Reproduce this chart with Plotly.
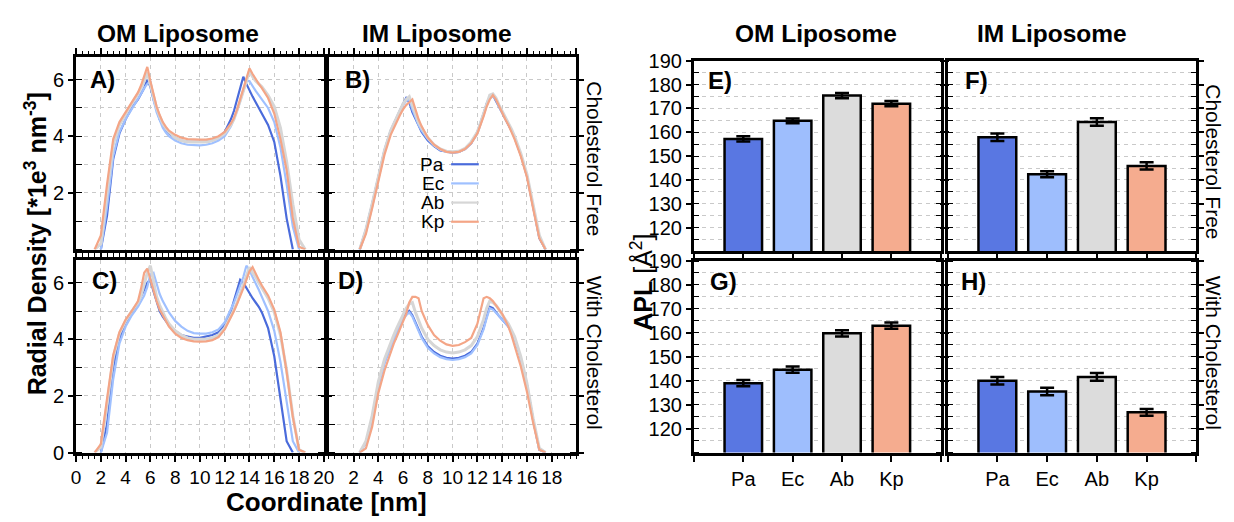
import plotly.graph_objects as go

# ---------------------------------------------------------------- data
species = ["Pa", "Ec", "Ab", "Kp"]
line_colors = ["#4a6bdb", "#9fc0ff", "#d6d6d6", "#f4a586"]
bar_colors = ["#5977e2", "#9ebefd", "#dcdcdc", "#f5ac8f"]

# sampling positions of the radial profiles [nm] (denser around the two peaks)
coord_nm = [0, 0.5, 1, 1.5, 2, 2.5, 3, 3.5, 4, 4.5,
            5, 5.25, 5.5, 5.75, 6, 6.25, 6.5, 6.75, 7, 7.25, 7.5,
            8, 8.5, 9, 9.5, 10, 10.5, 11, 11.5, 12,
            12.5, 12.75, 13, 13.25, 13.5, 13.75, 14, 14.25, 14.5, 14.75, 15,
            15.5, 16, 16.5, 17, 17.5, 18, 18.5, 19, 19.5, 20]

N = None
# OM liposome, cholesterol free (panel A)
om_free_pa = [N, N, N, N, 0.0, 1.2, 3.2, 4.1, 4.6, 5.0,
              5.3, 5.5, 5.7, 6.0, 5.75, 5.3, 4.9, 4.6, 4.4, 4.22, 4.1,
              3.95, 3.85, 3.8, 3.8, 3.8, 3.8, 3.85, 3.95, 4.15,
              4.6, 4.9, 5.3, 5.7, 6.1, 5.85, 5.6, 5.4, 5.2, 5.0, 4.8,
              4.4, 3.8, 2.6, 1.1, 0.0, N, N, N, N, N]
om_free_ec = [N, N, N, N, 0.0, 1.5, 3.3, 4.15, 4.6, 4.95,
              5.3, 5.5, 5.7, 5.85, 5.95, 5.3, 4.85, 4.55, 4.3, 4.13, 4.0,
              3.85, 3.75, 3.7, 3.68, 3.68, 3.7, 3.75, 3.85, 4.0,
              4.35, 4.6, 4.9, 5.25, 5.6, 5.95, 5.95, 5.75, 5.6, 5.45, 5.3,
              5.0, 4.5, 3.6, 2.3, 0.8, 0.0, N, N, N, N]
om_free_ab = [N, N, N, 0.0, 0.2, 2.0, 3.7, 4.4, 4.8, 5.15,
              5.5, 5.7, 5.95, 6.25, 5.85, 5.4, 5.0, 4.7, 4.45, 4.28, 4.15,
              3.95, 3.85, 3.8, 3.8, 3.8, 3.8, 3.85, 3.95, 4.1,
              4.4, 4.6, 4.9, 5.25, 5.6, 5.95, 6.3, 6.1, 5.95, 5.85, 5.75,
              5.45, 5.05, 4.3, 3.1, 1.6, 0.35, 0.0, N, N, N]
om_free_kp = [N, N, N, 0.0, 0.5, 2.3, 3.9, 4.5, 4.85, 5.2,
              5.55, 5.8, 6.1, 6.45, 5.95, 5.45, 5.05, 4.75, 4.5, 4.33, 4.2,
              4.05, 3.95, 3.9, 3.88, 3.88, 3.88, 3.92, 4.0, 4.15,
              4.45, 4.65, 4.95, 5.3, 5.65, 6.0, 6.4, 6.2, 6.0, 5.85, 5.7,
              5.35, 4.8, 3.9, 2.8, 1.1, 0.1, 0.0, N, N, N]

# IM liposome, cholesterol free (panel B)
im_free_pa = [N, N, N, N, N, 0.0, 0.7, 1.6, 2.6, 3.5,
              4.2, 4.45, 4.7, 4.95, 5.15, 5.35, 5.2, 4.85, 4.6, 4.35, 4.15,
              3.85, 3.65, 3.5, 3.45, 3.42, 3.45, 3.55, 3.75, 4.15,
              4.8, 5.15, 5.4, 5.45, 5.25, 5.05, 4.85, 4.65, 4.45, 4.2, 3.95,
              3.35, 2.6, 1.5, 0.4, 0.0, N, N, N, N, N]
im_free_ec = [N, N, N, N, N, 0.0, 0.6, 1.5, 2.5, 3.45,
              4.15, 4.4, 4.65, 4.9, 5.1, 5.25, 5.3, 4.95, 4.65, 4.4, 4.2,
              3.9, 3.68, 3.52, 3.45, 3.42, 3.45, 3.55, 3.75, 4.1,
              4.75, 5.1, 5.35, 5.4, 5.3, 5.05, 4.85, 4.65, 4.45, 4.2, 3.95,
              3.35, 2.6, 1.5, 0.45, 0.0, N, N, N, N, N]
im_free_ab = [N, N, N, N, N, 0.0, 0.7, 1.6, 2.55, 3.5,
              4.2, 4.45, 4.7, 4.95, 5.15, 5.3, 5.4, 5.1, 4.8, 4.5, 4.3,
              3.95, 3.7, 3.55, 3.47, 3.45, 3.47, 3.57, 3.8, 4.15,
              4.8, 5.15, 5.45, 5.5, 5.35, 5.1, 4.9, 4.7, 4.5, 4.25, 4.0,
              3.4, 2.65, 1.6, 0.5, 0.0, N, N, N, N, N]
im_free_kp = [N, N, N, N, N, 0.0, 0.55, 1.45, 2.4, 3.35,
              4.05, 4.3, 4.55, 4.75, 4.95, 5.1, 5.2, 5.3, 4.95, 4.6, 4.35,
              3.95, 3.7, 3.55, 3.45, 3.42, 3.45, 3.55, 3.75, 4.1,
              4.7, 5.05, 5.3, 5.45, 5.3, 5.05, 4.85, 4.6, 4.4, 4.15, 3.9,
              3.3, 2.55, 1.45, 0.4, 0.0, N, N, N, N, N]

# OM liposome, with cholesterol (panel C)
om_chol_pa = [N, N, N, N, 0.0, 1.0, 3.0, 4.0, 4.6, 4.9,
              5.3, 5.5, 5.75, 6.0, 6.1, 5.7, 5.3, 5.0, 4.8, 4.65, 4.5,
              4.3, 4.15, 4.1, 4.05, 4.05, 4.1, 4.15, 4.25, 4.5,
              5.0, 5.35, 5.7, 6.1, 6.0, 5.8, 5.65, 5.45, 5.3, 5.15, 4.95,
              4.4, 3.4, 1.9, 0.4, 0.0, N, N, N, N, N]
om_chol_ec = [N, N, N, N, 0.0, 0.7, 2.6, 3.85, 4.45, 4.85,
              5.15, 5.35, 5.55, 5.85, 6.3, 6.35, 5.95, 5.6, 5.35, 5.15, 4.95,
              4.65, 4.45, 4.3, 4.22, 4.2, 4.2, 4.25, 4.35, 4.6,
              5.05, 5.3, 5.6, 5.9, 6.2, 6.6, 6.45, 6.2, 6.0, 5.75, 5.5,
              5.0, 4.3, 3.2, 1.8, 0.4, 0.0, N, N, N, N]
om_chol_ab = [N, N, N, 0.0, 0.2, 1.7, 3.35, 4.2, 4.65, 5.0,
              5.3, 5.55, 6.0, 6.35, 6.6, 6.0, 5.5, 5.2, 4.95, 4.73, 4.55,
              4.3, 4.15, 4.05, 4.0, 4.0, 4.0, 4.05, 4.15, 4.4,
              4.8, 5.05, 5.3, 5.6, 5.9, 6.2, 6.55, 6.35, 6.2, 6.0, 5.8,
              5.45, 4.95, 4.15, 2.9, 1.3, 0.1, 0.0, N, N, N]
om_chol_kp = [N, N, N, 0.0, 0.3, 1.9, 3.45, 4.25, 4.7, 5.0,
              5.35, 5.8, 6.35, 6.5, 6.1, 5.7, 5.35, 5.05, 4.85, 4.63, 4.45,
              4.2, 4.05, 3.97, 3.93, 3.92, 3.93, 3.97, 4.08, 4.35,
              4.75, 5.0, 5.25, 5.5, 5.8, 6.1, 6.4, 6.55, 6.3, 6.1, 5.9,
              5.55, 5.05, 4.25, 2.85, 1.25, 0.1, 0.0, N, N, N]

# IM liposome, with cholesterol (panel D)
im_chol_pa = [N, N, N, N, N, 0.0, 0.35, 1.2, 2.4, 3.2,
              3.8, 4.05, 4.3, 4.55, 4.75, 4.9, 5.0, 4.85, 4.6, 4.35, 4.1,
              3.75, 3.55, 3.42, 3.35, 3.32, 3.35, 3.42, 3.55, 3.85,
              4.4, 4.8, 5.15, 5.1, 4.95, 4.82, 4.7, 4.58, 4.45, 4.28, 4.05,
              3.35, 2.4, 1.15, 0.1, 0.0, N, N, N, N, N]
im_chol_ec = [N, N, N, N, N, 0.0, 0.35, 1.2, 2.35, 3.15,
              3.75, 4.0, 4.25, 4.5, 4.7, 4.85, 4.95, 4.8, 4.55, 4.3, 4.05,
              3.7, 3.5, 3.37, 3.3, 3.27, 3.3, 3.37, 3.5, 3.8,
              4.35, 4.75, 5.1, 5.05, 4.95, 4.82, 4.7, 4.58, 4.45, 4.28, 4.05,
              3.35, 2.4, 1.15, 0.1, 0.0, N, N, N, N, N]
im_chol_ab = [N, N, N, N, N, 0.0, 0.4, 1.3, 2.5, 3.3,
              3.9, 4.15, 4.4, 4.65, 4.9, 5.1, 5.25, 5.3, 4.95, 4.65, 4.4,
              4.0, 3.78, 3.63, 3.55, 3.52, 3.55, 3.63, 3.78, 4.1,
              4.7, 5.1, 5.35, 5.3, 5.2, 5.05, 4.85, 4.7, 4.55, 4.35, 4.1,
              3.4, 2.45, 1.2, 0.15, 0.0, N, N, N, N, N]
im_chol_kp = [N, N, N, N, N, 0.0, 0.15, 0.9, 2.1, 2.9,
              3.55, 3.85, 4.1, 4.35, 4.6, 4.9, 5.3, 5.5, 5.5, 5.45, 5.0,
              4.5, 4.15, 3.95, 3.82, 3.77, 3.8, 3.9, 4.05, 4.55,
              5.45, 5.5, 5.45, 5.35, 5.2, 5.05, 4.9, 4.68, 4.45, 4.15, 3.8,
              3.05, 2.15, 1.05, 0.1, 0.0, N, N, N, N, N]

# Area per lipid [A^2] and its uncertainty
apl_om_free = [157.2, 164.8, 175.4, 172.0]
apl_om_free_err = [1.1, 1.0, 1.1, 1.1]
apl_im_free = [157.9, 142.4, 164.3, 145.9]
apl_im_free_err = [1.6, 1.3, 1.6, 1.5]
apl_om_chol = [139.0, 144.6, 159.8, 163.0]
apl_om_chol_err = [1.3, 1.3, 1.3, 1.3]
apl_im_chol = [140.0, 135.5, 141.6, 126.8]
apl_im_chol_err = [1.6, 1.6, 1.6, 1.4]

coord_tick_vals = [0, 2, 4, 6, 8, 10, 12, 14, 16, 18, 20]
apl_tick_vals = [120, 130, 140, 150, 160, 170, 180, 190]

# ---------------------------------------------------------------- layout helpers
W, H = 1234, 522
FONT = "Liberation Sans, Arial, Helvetica, sans-serif"
GRID = "#c9c9c9"
DASH = "4px,4px"


def px(x):
    return x / W


def py(y):
    return 1 - y / H


def xdom(left, right):
    return [px(left), px(right)]


def ydom(top, bottom):
    return [py(bottom), py(top)]


def density_xaxis(dom, anchor, tickvals):
    ax = dict(domain=dom, anchor=anchor, range=[0, 20], showline=True, linewidth=3,
              linecolor="black", mirror="allticks", ticks="outside", ticklen=6, tickwidth=1.5,
              tickcolor="black", tickmode="array", tickvals=coord_tick_vals,
              tickfont=dict(size=19, color="black"),
              showgrid=True, gridcolor=GRID, griddash=DASH, gridwidth=1, zeroline=False,
              minor=dict(tickmode="linear", tick0=0, dtick=0.5, ticks="outside", ticklen=3,
                         tickwidth=1, tickcolor="black", showgrid=False),
              fixedrange=True)
    if tickvals is None:
        ax["showticklabels"] = False
    else:
        ax["tickvals"] = tickvals
    return ax


def density_yaxis(dom, anchor, tickvals):
    ax = dict(domain=dom, anchor=anchor, range=[0, 6.8], showline=True, linewidth=3,
              linecolor="black", mirror="allticks", ticks="outside", ticklen=5,
              tickwidth=1.5, tickcolor="black", tickmode="array", tickvals=[0, 2, 4, 6],
              tickfont=dict(size=20, color="black"),
              showgrid=True, gridcolor=GRID, griddash=DASH, gridwidth=1, zeroline=False,
              minor=dict(tickmode="linear", tick0=0, dtick=1, ticks="inside", ticklen=6,
                         tickwidth=1, tickcolor="black", showgrid=True, gridcolor=GRID,
                         griddash=DASH, gridwidth=1),
              fixedrange=True)
    if tickvals is None:
        ax["showticklabels"] = False
    else:
        ax["tickvals"] = tickvals
    return ax


def apl_xaxis(dom, anchor, show_labels):
    return dict(domain=dom, anchor=anchor, range=[-1, 4], showline=True, linewidth=3,
                linecolor="black", mirror=True, ticks="outside", ticklen=6, tickwidth=1.5,
                tickcolor="black", tickmode="array", tickvals=[0, 1, 2, 3], ticktext=species,
                showticklabels=show_labels,
                tickfont=dict(size=20, color="black"), showgrid=False, zeroline=False,
                minor=dict(tickmode="linear", tick0=0, dtick=1, ticks="outside", ticklen=6,
                           tickwidth=1.5, tickcolor="black", showgrid=False),
                fixedrange=True)


def apl_yaxis(dom, anchor, show_labels):
    return dict(domain=dom, anchor=anchor, range=[110, 190], showline=True, linewidth=3,
                linecolor="black", mirror="allticks", ticks="outside", ticklen=5,
                tickwidth=1.5, tickcolor="black", tickmode="array", tickvals=apl_tick_vals,
                showticklabels=show_labels,
                tickfont=dict(size=20, color="black"),
                showgrid=True, gridcolor=GRID, griddash=DASH, gridwidth=1, zeroline=False,
                minor=dict(tickmode="linear", tick0=110, dtick=5, ticks="inside", ticklen=5,
                           tickwidth=1, tickcolor="black", showgrid=True, gridcolor=GRID,
                           griddash=DASH, gridwidth=1),
                fixedrange=True)


# ---------------------------------------------------------------- figure
fig = go.Figure()

density_panels = [
    ("x", "y", [om_free_pa, om_free_ec, om_free_ab, om_free_kp]),
    ("x2", "y2", [im_free_pa, im_free_ec, im_free_ab, im_free_kp]),
    ("x3", "y3", [om_chol_pa, om_chol_ec, om_chol_ab, om_chol_kp]),
    ("x4", "y4", [im_chol_pa, im_chol_ec, im_chol_ab, im_chol_kp]),
]
for xa, ya, series in density_panels:
    for name, color, vals in zip(species, line_colors, series):
        fig.add_trace(go.Scatter(x=coord_nm, y=vals, mode="lines", name=name,
                                 line=dict(color=color, width=3 if name == "Ab" else 2.2),
                                 connectgaps=False, showlegend=False, xaxis=xa, yaxis=ya,
                                 hoverinfo="skip"))

apl_panels = [
    ("x5", "y5", apl_om_free, apl_om_free_err),
    ("x6", "y6", apl_im_free, apl_im_free_err),
    ("x7", "y7", apl_om_chol, apl_om_chol_err),
    ("x8", "y8", apl_im_chol, apl_im_chol_err),
]
for xa, ya, vals, errs in apl_panels:
    fig.add_trace(go.Bar(x=list(range(len(species))), y=vals, width=0.76,
                         marker=dict(color=bar_colors, line=dict(color="black", width=2.5)),
                         error_y=dict(type="data", array=errs, visible=True, color="black",
                                      thickness=2.5, width=7),
                         showlegend=False, xaxis=xa, yaxis=ya, hoverinfo="skip"))

top_row = ydom(48, 249)
bot_row = ydom(260, 461)
bar_top = ydom(52, 251)
bar_bot = ydom(261, 461)

fig.update_layout(
    width=W, height=H,
    margin=dict(l=0, r=0, t=0, b=0),
    paper_bgcolor="white", plot_bgcolor="white",
    font=dict(family=FONT, color="black", size=20),
    showlegend=False,
    xaxis=density_xaxis(xdom(72, 323), "y", None),
    yaxis=density_yaxis(top_row, "x", [2, 4, 6]),
    xaxis2=density_xaxis(xdom(328, 579), "y2", None),
    yaxis2=density_yaxis(top_row, "x2", None),
    xaxis3=density_xaxis(xdom(72, 323), "y3", coord_tick_vals),
    yaxis3=density_yaxis(bot_row, "x3", [0, 2, 4, 6]),
    xaxis4=density_xaxis(xdom(328, 579), "y4", coord_tick_vals[1:-1]),
    yaxis4=density_yaxis(bot_row, "x4", None),
    xaxis5=apl_xaxis(xdom(698, 948), "y5", False),
    yaxis5=apl_yaxis(bar_top, "x5", True),
    xaxis6=apl_xaxis(xdom(955, 1207), "y6", False),
    yaxis6=apl_yaxis(bar_top, "x6", False),
    xaxis7=apl_xaxis(xdom(698, 948), "y7", True),
    yaxis7=apl_yaxis(bar_bot, "x7", True),
    xaxis8=apl_xaxis(xdom(955, 1207), "y8", True),
    yaxis8=apl_yaxis(bar_bot, "x8", False),
)

annotations = []


def note(text, x, y, size, xanchor="center", yanchor="middle", angle=0):
    annotations.append(dict(text=text, x=px(x), y=py(y), xref="paper", yref="paper",
                            xanchor=xanchor, yanchor=yanchor, textangle=angle,
                            showarrow=False, font=dict(size=size, family=FONT, color="black")))


# column headers
note("<b>OM Liposome</b>", 175, 24, 24.5)
note("<b>IM Liposome</b>", 438, 24, 24.5)
note("<b>OM Liposome</b>", 822, 24, 24.5)
note("<b>IM Liposome</b>", 1061, 24, 24.5)

# row labels
note("Cholesterol Free", 597, 154, 21, angle=90)
note("With Cholesterol", 597, 357, 21, angle=90)
note("Cholesterol Free", 1224, 157, 21, angle=90)
note("With Cholesterol", 1224, 357, 21, angle=90)

# panel letters
for letter, x, y in [("A)", 84, 72), ("B)", 342, 72), ("C)", 86, 281), ("D)", 335, 281),
                     ("E)", 710, 73), ("F)", 971, 73), ("G)", 712, 282), ("H)", 967, 282)]:
    note("<b>%s</b>" % letter, x, y, 24, xanchor="left")

# axis titles
note("<b>Radial Density [*1e<sup>3</sup> nm<sup>-3</sup>]</b>", 31, 243, 25, angle=-90)
note("<b>Coordinate [nm]</b>", 326, 513, 26)
note("<b>APL</b> [Å<sup>2</sup>]", 645, 283, 25, angle=-90)

# legend for the density profiles (panel B)
legend_rows = [160, 180, 200, 220]
shapes = []
for name, color, y in zip(species, line_colors, legend_rows):
    note(name, 447, y, 19, xanchor="right")
    shapes.append(dict(type="line", xref="paper", yref="paper", x0=px(452), x1=px(480),
                       y0=py(y), y1=py(y), line=dict(color=color, width=2.2)))

fig.update_layout(annotations=annotations, shapes=shapes)

fig.write_html("out.html")
